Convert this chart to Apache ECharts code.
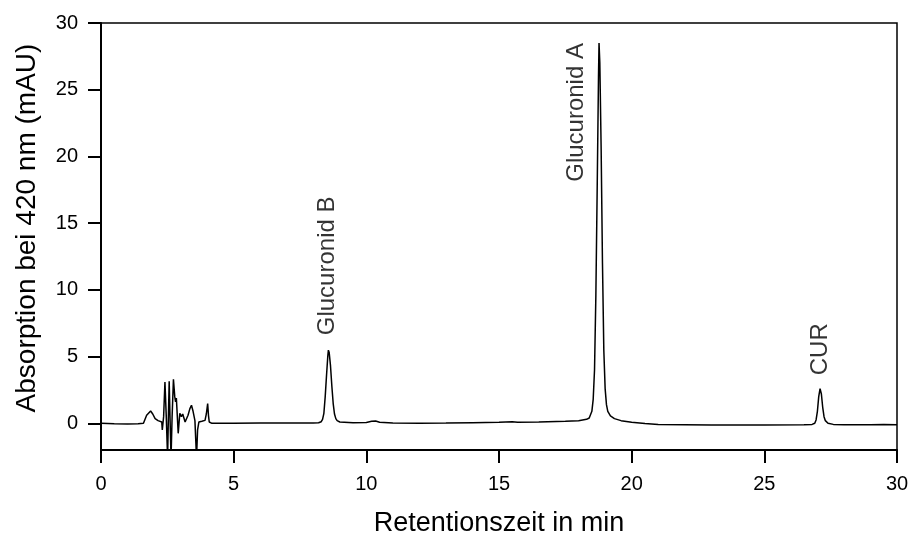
<!DOCTYPE html>
<html>
<head>
<meta charset="utf-8">
<script src="https://cdn.jsdelivr.net/npm/echarts@6/dist/echarts.min.js"></script>
<style>
html,body{margin:0;padding:0;background:#fff;}
#chart{width:910px;height:538px;}
</style>
</head>
<body>
<div id="chart"></div>
<script>
// Retention time (min)
var times = [0,0.5,1.0,1.4,1.6,1.66,1.72,1.78,1.87,1.95,2.04,2.15,2.29,2.31,2.36,2.41,2.46,2.51,2.54,2.57,2.6,2.64,2.68,2.73,2.78,2.81,2.84,2.91,2.97,3.03,3.08,3.17,3.28,3.35,3.41,3.47,3.54,3.6,3.64,3.69,3.8,3.92,3.97,4.02,4.05,4.08,4.18,5.0,6.0,7.0,8.0,8.2,8.3,8.35,8.4,8.45,8.5,8.55,8.57,8.6,8.65,8.7,8.75,8.8,8.85,8.9,9.0,9.5,10.0,10.2,10.35,10.5,11,12,13,14,15,15.5,15.7,16.5,17.5,18.0,18.3,18.4,18.5,18.55,18.6,18.65,18.7,18.75,18.77,18.8,18.85,18.9,18.95,19.0,19.05,19.1,19.2,19.35,19.6,20.0,20.5,21,23,25,26.5,26.8,26.9,26.95,27.0,27.05,27.1,27.15,27.2,27.25,27.3,27.4,27.6,28,29,29.5,30];
// Absorption at 420 nm (mAU)
var absorb = [0,-0.03,-0.05,-0.03,0.0,0.1,0.6,0.47,0.92,0.7,0.35,0.2,0.1,-0.5,0.5,3.1,0.5,-2.6,0.5,3.15,0.5,-2.6,0.5,3.3,2.0,1.6,1.9,-0.75,0.75,0.5,0.7,0.1,0.6,1.1,1.35,0.9,0.2,-2.6,-0.5,0.1,0.15,0.22,0.7,1.48,0.6,0.1,0.0,0.0,0.02,0.03,0.02,0.04,0.12,0.3,0.75,2.0,3.6,5.1,5.48,5.3,4.3,2.8,1.5,0.7,0.35,0.2,0.1,0.05,0.06,0.15,0.17,0.08,0.03,0.0,0.02,0.05,0.08,0.12,0.08,0.1,0.15,0.2,0.3,0.4,0.9,1.8,4.0,9.5,17.5,26.0,28.5,27.0,20.5,12.0,5.5,2.6,1.4,0.9,0.55,0.35,0.2,0.08,-0.02,-0.08,-0.12,-0.12,-0.1,-0.08,0.0,0.25,0.9,2.0,2.6,2.2,1.2,0.5,0.2,0.0,-0.08,-0.1,-0.1,-0.08,-0.1];
// Peak annotations
var annLabels = ['Glucuronid B','Glucuronid A','CUR'];
var annTimes = [8.52, 17.9, 27.1];
var annValues = [6.6, 18.1, 3.6];
// Axis ticks
var xTicks = [0,5,10,15,20,25,30];
var yTicks = [0,5,10,15,20,25,30];

var FONT = '"Liberation Sans", Arial, Helvetica, sans-serif';
var lineData = times.map(function(t,i){return [t, absorb[i]];});
var annData = annLabels.map(function(l,i){return {value:[annTimes[i], annValues[i]], name:l};});

var chart = echarts.init(document.getElementById('chart'), null, {renderer:'canvas'});
chart.setOption({
  animation:false,
  backgroundColor:'#fff',
  textStyle:{fontFamily:FONT},
  grid:{left:101, right:13, top:23, bottom:88, show:true, borderColor:'#000', borderWidth:1.5, backgroundColor:'transparent', containLabel:false, outerBoundsMode:'none'},
  xAxis:{
    type:'value', min:xTicks[0], max:xTicks[xTicks.length-1], interval:5,
    name:'Retentionszeit in min', nameLocation:'middle', nameGap:60,
    nameTextStyle:{fontSize:27, color:'#000', fontFamily:FONT},
    axisLine:{show:true, onZero:false, lineStyle:{color:'#000', width:2}},
    axisTick:{show:true, inside:false, length:13, lineStyle:{color:'#000', width:2}},
    axisLabel:{fontSize:20, color:'#000', margin:24, fontFamily:FONT},
    splitLine:{show:false}
  },
  yAxis:{
    type:'value', min:-2, max:30,
    name:'Absorption bei 420 nm (mAU)', nameLocation:'middle', nameGap:60,
    nameTextStyle:{fontSize:28, color:'#000', fontFamily:FONT, padding:[0,0,0,17]},
    axisLine:{show:true, onZero:false, lineStyle:{color:'#000', width:2}},
    axisTick:{show:true, inside:false, length:13, customValues:yTicks, lineStyle:{color:'#000', width:2}},
    axisLabel:{fontSize:20, color:'#000', margin:23, customValues:yTicks, fontFamily:FONT},
    splitLine:{show:false}
  },
  series:[
    {type:'line', data:lineData, showSymbol:false, symbol:'none', lineStyle:{color:'#000', width:1.5}, clip:true, z:3},
    {type:'scatter', data:annData, symbolSize:0, silent:true,
     label:{show:true, formatter:function(p){return p.name;}, position:'inside', rotate:90, align:'left', verticalAlign:'middle',
            fontSize:24, color:'#000', fontFamily:FONT}}
  ]
});
</script>
</body>
</html>
